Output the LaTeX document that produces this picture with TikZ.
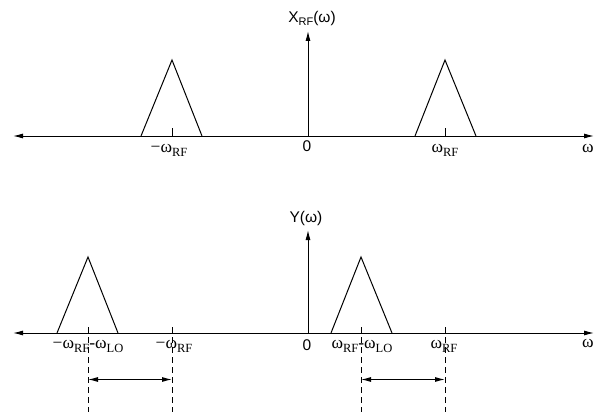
\documentclass[tikz,border=0pt]{standalone}
\usepackage{fontspec}
\setmainfont{Liberation Sans}
\newfontfamily\wfont{Liberation Serif}
\usetikzlibrary{arrows.meta}
\newcommand\wsub[1]{\raisebox{-4pt}{\fontsize{12.5}{13}\selectfont#1}}
\newcommand\rfsub[1]{\raisebox{-3pt}{\fontsize{11}{11}\selectfont#1}}

\begin{document}
\begin{tikzpicture}[x=1pt, y=-1pt,
    axis/.style={line width=1pt, {Latex[length=10pt,width=5pt]}-{Latex[length=10pt,width=5pt]}},
    upaxis/.style={line width=1pt, -{Latex[length=10pt,width=5pt]}},
    band/.style={line width=1pt},
    guide/.style={line width=1pt, dash pattern=on 6pt off 4pt},
    span/.style={line width=1pt, {Latex[length=10pt,width=5pt]}-{Latex[length=10pt,width=5pt]}},
    freq/.style={font=\fontsize{17.5}{19}\selectfont\wfont, anchor=base, inner sep=0pt},
    title/.style={font=\fontsize{15.5}{17}\selectfont, anchor=base, inner sep=0pt},
  ]
    \useasboundingbox (0,0) rectangle (595,412);

    % Upper spectrum
    \coordinate (xl) at (13,136);
    \coordinate (xr) at (594,136);
    \coordinate (xo) at (308,136);
    \coordinate (xtop) at (308,31);
    \draw[axis] (xl) -- (xr);
    \draw[upaxis] (xo) -- (xtop);
    \node[title] (xlab) at (312,23) {X\rfsub{RF}(ω)};

    \draw[band] (141,136) -- (172,60) -- (202,136);
    \draw[band] (415,136) -- (445,60) -- (476,136);
    \draw[band] (172,128) -- (172,136);
    \draw[band] (445,128) -- (445,136);

    \node[freq] (xneg) at (169,152) {−ω\wsub{RF}};
    \node[title] (xzero) at (307,151) {0};
    \node[freq] (xpos) at (445,152) {ω\wsub{RF}};
    \node[freq] (xw) at (588,152) {ω};

    % Lower spectrum
    \coordinate (yl) at (13,333);
    \coordinate (yr) at (594,333);
    \coordinate (yo) at (308,333);
    \coordinate (ytop) at (308,230);
    \draw[axis] (yl) -- (yr);
    \draw[upaxis] (yo) -- (ytop);
    \node[title] (ylab) at (306,222) {Y(ω)};

    \draw[band] (57,333) -- (88,257) -- (118,333);
    \draw[band] (331,333) -- (361,257) -- (392,333);

    % Guides and shifts
    \foreach \x/\n in {88/ga, 172/gb, 361/gc, 445/gd} {
      \coordinate (\n top) at (\x,327);
      \coordinate (\n bot) at (\x,412);
      \draw[guide] (\n top) -- (\n bot);
    }
    \coordinate (sa) at (88,379.5);
    \coordinate (sb) at (172,379.5);
    \coordinate (sc) at (361,379.5);
    \coordinate (sd) at (445,379.5);
    \draw[span] (sa) -- (sb);
    \draw[span] (sc) -- (sd);

    \node[freq] (yneglo) at (88,348) {−ω\wsub{RF}-ω\wsub{LO}};
    \node[freq] (yneg) at (174,348) {−ω\wsub{RF}};
    \node[title] (yzero) at (307,350) {0};
    \node[freq] (yposlo) at (362,348) {ω\wsub{RF}-ω\wsub{LO}};
    \node[freq] (ypos) at (444,348) {ω\wsub{RF}};
    \node[freq] (yw) at (588,347) {ω};
  \end{tikzpicture}
\end{document}
